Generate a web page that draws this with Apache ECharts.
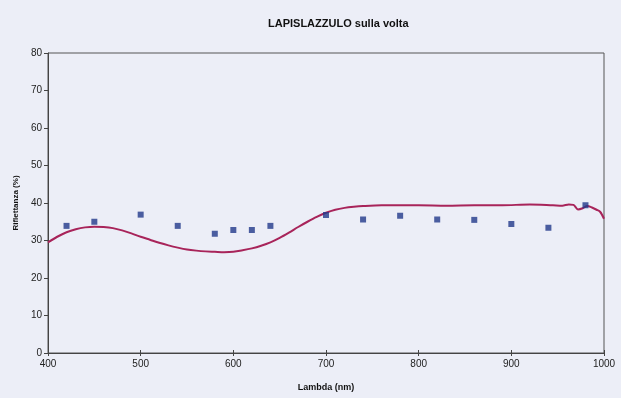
<!DOCTYPE html>
<html>
<head>
<meta charset="utf-8">
<script src="https://cdn.jsdelivr.net/npm/echarts@6/dist/echarts.min.js"></script>
<style>
  html, body { margin: 0; padding: 0; background: #eceef7; }
  #chart { width: 621px; height: 398px; }
</style>
</head>
<body>
<div id="chart"></div>
<script>
// spettro misurato (curva continua)
const curveLambda = [400, 410, 420, 430, 440, 450, 460, 470, 480, 490, 500, 510, 520, 530, 540, 550, 560, 570, 580, 590,
  600, 610, 620, 630, 640, 650, 660, 670, 680, 690, 700, 710, 720, 730, 740, 760, 780, 800, 830, 860, 890, 920, 945, 955,
  962, 967, 972, 977, 982, 987, 992, 996, 1000];
const curveValues = [29.5, 31.0, 32.2, 33.0, 33.5, 33.7, 33.6, 33.3, 32.7, 31.9, 31.0, 30.2, 29.4, 28.7, 28.1, 27.6, 27.3, 27.1, 27.0, 26.9,
  27.0, 27.4, 27.9, 28.6, 29.5, 30.7, 32.1, 33.6, 35.0, 36.3, 37.4, 38.2, 38.7, 39.0, 39.2, 39.4, 39.4, 39.4, 39.3, 39.4, 39.4, 39.6, 39.4, 39.3,
  39.6, 39.5, 38.3, 38.6, 39.2, 38.8, 38.2, 37.6, 35.8];

// punti di confronto (quadratini blu)
const pointLambda = [420, 450, 500, 540, 580, 600, 620, 640, 700, 740, 780, 820, 860, 900, 940, 980];
const pointValues = [33.9, 35.0, 36.9, 33.9, 31.8, 32.8, 32.8, 33.9, 36.8, 35.6, 36.6, 35.6, 35.5, 34.4, 33.4, 39.4];

const xTicks = { min: 400, max: 1000, interval: 100 };
const yTicks = { min: 0, max: 80, interval: 10 };

const myChart = echarts.init(document.getElementById("chart"));

const labelStyle = { color: "#222", fontSize: 10, fontFamily: "Liberation Sans, Arial, sans-serif" };
const nameStyle = { color: "#111", fontSize: 9, fontWeight: "bold", fontFamily: "Liberation Sans, Arial, sans-serif" };

const option = {
  backgroundColor: "#eceef7",
  animation: false,
  title: {
    text: "LAPISLAZZULO sulla volta",
    left: 263,
    top: 13,
    textStyle: { color: "#111", fontSize: 11, fontWeight: "bold", fontFamily: "Liberation Sans, Arial, sans-serif" },
  },
  grid: {
    left: 48,
    right: 17,
    top: 53,
    bottom: 45,
    show: true,
    borderColor: "#555",
    borderWidth: 1,
    backgroundColor: "transparent",
  },
  xAxis: [
    {
      type: "value",
      ...xTicks,
      name: "Lambda (nm)",
      nameLocation: "middle",
      nameGap: 30,
      nameTextStyle: nameStyle,
      axisLine: { lineStyle: { color: "#444", width: 1 } },
      axisTick: { show: true, length: 3, lineStyle: { color: "#444" } },
      axisLabel: { ...labelStyle, margin: 6, formatter: (v) => String(v) },
      splitLine: { show: false },
    },
    {
      // tacche interne, per ottenere le tacche a croce
      type: "value",
      ...xTicks,
      position: "bottom",
      axisLine: { show: false },
      axisTick: { show: true, inside: true, length: 3, lineStyle: { color: "#444" } },
      axisLabel: { show: false },
      splitLine: { show: false },
    },
  ],
  yAxis: {
    type: "value",
    ...yTicks,
    name: "Riflettanza (%)",
    nameLocation: "middle",
    nameGap: 26,
    nameTextStyle: { ...nameStyle, fontSize: 8 },
    axisLine: { show: true, lineStyle: { color: "#444", width: 1 } },
    axisTick: { show: true, length: 4, lineStyle: { color: "#444" } },
    axisLabel: { ...labelStyle, margin: 6 },
    splitLine: { show: false },
  },
  series: [
    {
      type: "line",
      data: curveLambda.map((l, i) => [l, curveValues[i]]),
      smooth: 0.3,
      showSymbol: false,
      symbol: "none",
      color: "#a8245a",
      lineStyle: { width: 2, color: "#a8245a" },
      z: 2,
    },
    {
      type: "scatter",
      data: pointLambda.map((l, i) => [l, pointValues[i]]),
      symbol: "rect",
      symbolSize: 6,
      itemStyle: { color: "#22388a" },
      z: 3,
    },
  ],
};

myChart.setOption(option);
</script>
</body>
</html>
